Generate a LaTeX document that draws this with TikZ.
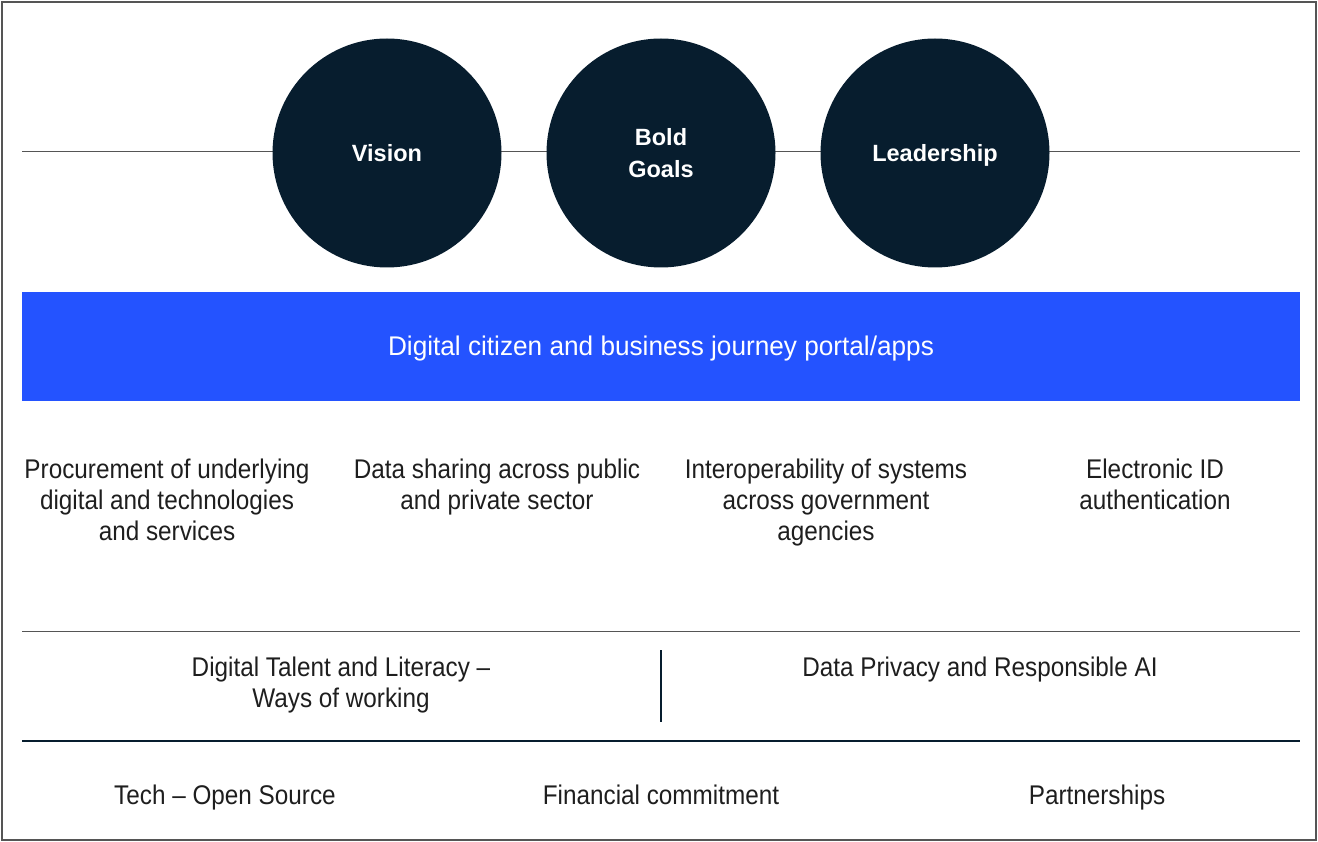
\documentclass[tikz,border=0pt]{standalone}
\usepackage{fontspec}
\setmainfont{Liberation Sans}[FakeStretch=0.9]
\newfontfamily\portalfont{Liberation Sans}[FakeStretch=0.97]
\newfontfamily\circfont{Liberation Sans}
\definecolor{navy}{HTML}{071D2E}
\definecolor{brandblue}{HTML}{2453FF}
\definecolor{rulegray}{HTML}{555555}
\definecolor{inkc}{HTML}{1E1E1E}
\begin{document}
\begin{tikzpicture}[x=1pt,y=-1pt,
  circ/.style={circle,fill=navy,minimum size=229pt,inner sep=0pt,text=white,text depth=0pt,font=\circfont\fontsize{23.5}{32}\selectfont\bfseries,align=center},
  lbl/.style={align=center,text=inkc,font=\fontsize{27}{31}\selectfont,inner sep=0pt},
  thin/.style={draw=rulegray,line width=1pt}]
\useasboundingbox (0,0) rectangle (1318,842);
\draw[draw=rulegray,line width=1.2pt] (2,2) rectangle (1316,840);
\coordinate (hl) at (22,152);
\coordinate (hr) at (1300,152);
\draw[thin] (hl) -- (hr);
\node[circ] (vision) at (387,153) {Vision};
\node[circ] (goals) at (661,153) {Bold\\Goals};
\node[circ] (lead) at (935,153) {Leadership};
\fill[brandblue] (22,292) rectangle (1300,401);
\node[lbl,text=white,anchor=base,font=\portalfont\fontsize{27}{31}\selectfont] (portal) at (661,356) {Digital citizen and business journey portal/apps};
\node[lbl,anchor=north] (proc) at (167,459) {Procurement of underlying\\digital and technologies\\and services};
\node[lbl,anchor=north] (share) at (497,459) {Data sharing across public\\and private sector};
\node[lbl,anchor=north] (inter) at (826,459) {Interoperability of systems\\across government\\agencies};
\node[lbl,anchor=north] (eid) at (1155,459) {Electronic ID\\authentication};
\coordinate (l1l) at (22,631);
\coordinate (l1r) at (1300,631);
\draw[thin] (l1l) -- (l1r);
\coordinate (vt) at (661,650);
\coordinate (vb) at (661,722);
\draw[draw=navy,line width=1.2pt] (vt) -- (vb);
\node[lbl,anchor=north] (talent) at (341,657) {Digital Talent and Literacy –\\Ways of working};
\node[lbl,anchor=north] (privacy) at (980,657) {Data Privacy and Responsible AI};
\coordinate (l2l) at (22,741);
\coordinate (l2r) at (1300,741);
\draw[draw=navy,line width=1.2pt] (l2l) -- (l2r);
\node[lbl,anchor=base] (tech) at (225,804) {Tech – Open Source};
\node[lbl,anchor=base] (fin) at (661,804) {Financial commitment};
\node[lbl,anchor=base] (part) at (1097,804) {Partnerships};
\end{tikzpicture}
\end{document}
